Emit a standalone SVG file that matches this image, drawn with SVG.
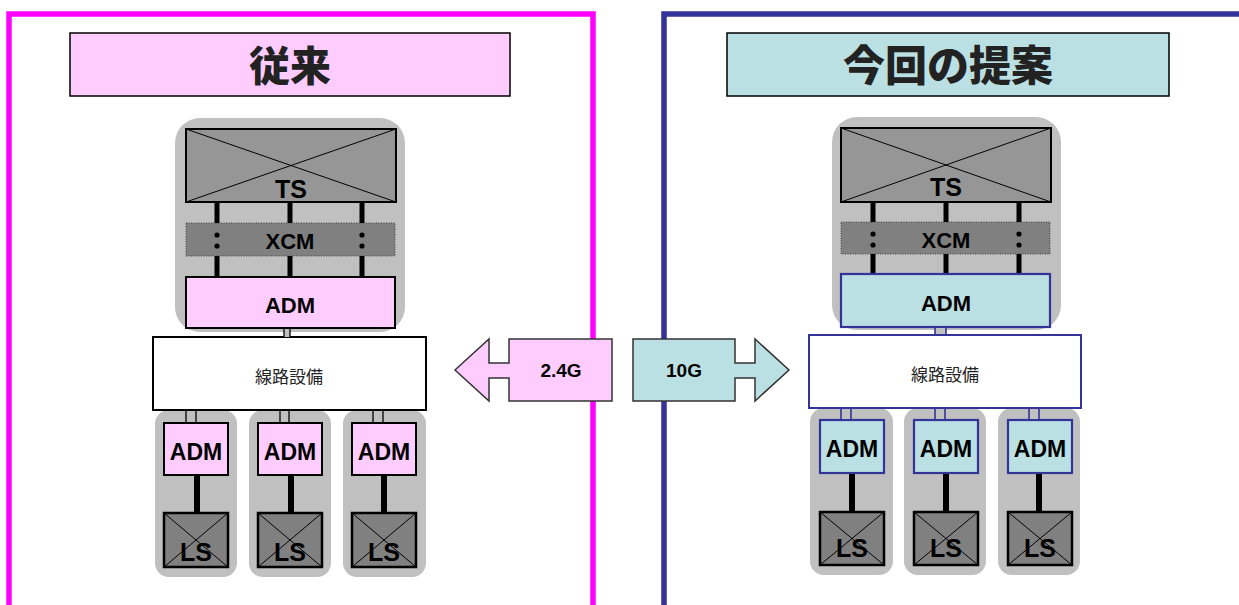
<svg xmlns="http://www.w3.org/2000/svg" width="1239" height="605" viewBox="0 0 1239 605">
<style>
.gc{fill:#C0C0C0}
.ts{fill:#969696;stroke:#000;stroke-width:2}
.xcm{fill:#808080;stroke:#444;stroke-width:1;stroke-dasharray:1 1.5}
.admL{fill:#FFCCFF;stroke:#000;stroke-width:2}
.admR{fill:#BBE0E3;stroke:#333399;stroke-width:2.2}
.ls{fill:#808080;stroke:#000;stroke-width:2.5}
.dg{stroke:#000;stroke-width:1}
.box{fill:#fff;stroke-width:2}
.lnk{stroke:#000;stroke-width:5}
.lnk2{stroke:#000;stroke-width:6}
.pair{fill:#C0C0C0;stroke:none}
.side{stroke:#000;stroke-width:1.3}
.sideR{stroke:#333399;stroke-width:1.6}
.t{font-family:"Liberation Sans",Arial,sans-serif;font-weight:bold;text-anchor:middle;fill:#000}
.j{font-family:"Noto Sans CJK JP","Noto Sans",sans-serif;text-anchor:middle;fill:#222}
.arrow{stroke:#333;stroke-width:1.5}
</style>
<rect width="1239" height="605" fill="#fff"/>
<g id="panel-left">
<rect x="9" y="14" width="584" height="640" fill="none" stroke="#FF00FF" stroke-width="5.5"/>
<g id="title-left"><rect x="70" y="33" width="440" height="63" fill="#FFCCFF" stroke="#000" stroke-width="1.5"/>
<text class="j" x="290" y="81" font-size="41" font-weight="900" fill="#000">従来</text></g>
</g>
<g id="panel-right">
<rect x="664" y="14" width="620" height="640" fill="none" stroke="#333399" stroke-width="5.5"/>
<g id="title-right"><rect x="727" y="33" width="442" height="63" fill="#BBE0E3" stroke="#000" stroke-width="1.5"/>
<text class="j" x="948" y="81" font-size="42" font-weight="900" fill="#000">今回の提案</text></g>
</g>
<!-- containers -->
<rect class="gc" x="175" y="118" width="230" height="214" rx="25"/>
<rect class="gc" x="155" y="410" width="82" height="167" rx="14"/>
<rect class="gc" x="249" y="410" width="82" height="167" rx="14"/>
<rect class="gc" x="343" y="410" width="83" height="167" rx="14"/>
<rect class="gc" x="832" y="117" width="229" height="213" rx="25"/>
<rect class="gc" x="810" y="408" width="83" height="167" rx="14"/>
<rect class="gc" x="904" y="408" width="82" height="167" rx="14"/>
<rect class="gc" x="998" y="408" width="82" height="167" rx="14"/>

<g id="L-TS"><rect class="ts" x="186" y="129" width="210" height="73"/>
<line class="dg" x1="186" y1="129" x2="396" y2="202"/><line class="dg" x1="186" y1="202" x2="396" y2="129"/>
<text class="t" x="291" y="198" font-size="25">TS</text></g>
<g id="L-XCM"><rect class="xcm" x="186" y="223" width="209" height="33"/>
<text class="t" x="290" y="249" font-size="22">XCM</text>
<circle cx="217" cy="235" r="2.6"/><circle cx="217" cy="246" r="2.6"/><circle cx="362" cy="235" r="2.6"/><circle cx="362" cy="246" r="2.6"/></g>
<g id="L-ADM"><rect class="admL" x="186" y="277" width="209" height="51"/>
<text class="t" x="290" y="313" font-size="22">ADM</text></g>
<g id="L-line"><rect class="box" x="153" y="337" width="273" height="73" stroke="#000"/>
<text class="j" x="289" y="383" font-size="17">線路設備</text></g>
<g id="L-ADM1"><rect class="admL" x="164" y="423" width="64" height="52" stroke-width="3"/><text class="t" x="196" y="460" font-size="23">ADM</text></g>
<g id="L-ADM2"><rect class="admL" x="258" y="423" width="64" height="52" stroke-width="3"/><text class="t" x="290" y="460" font-size="23">ADM</text></g>
<g id="L-ADM3"><rect class="admL" x="352" y="423" width="64" height="52" stroke-width="3"/><text class="t" x="384" y="460" font-size="23">ADM</text></g>
<g id="L-LS1"><rect class="ls" x="164" y="513" width="64" height="54"/><line class="dg" x1="164" y1="513" x2="228" y2="567"/><line class="dg" x1="164" y1="567" x2="228" y2="513"/><text class="t" x="196" y="561" font-size="25">LS</text></g>
<g id="L-LS2"><rect class="ls" x="258" y="513" width="64" height="54"/><line class="dg" x1="258" y1="513" x2="322" y2="567"/><line class="dg" x1="258" y1="567" x2="322" y2="513"/><text class="t" x="290" y="561" font-size="25">LS</text></g>
<g id="L-LS3"><rect class="ls" x="352" y="513" width="64" height="54"/><line class="dg" x1="352" y1="513" x2="416" y2="567"/><line class="dg" x1="352" y1="567" x2="416" y2="513"/><text class="t" x="384" y="561" font-size="25">LS</text></g>

<g id="R-TS"><rect class="ts" x="841" y="128" width="210" height="74"/>
<line class="dg" x1="841" y1="128" x2="1051" y2="202"/><line class="dg" x1="841" y1="202" x2="1051" y2="128"/>
<text class="t" x="946" y="196" font-size="25">TS</text></g>
<g id="R-XCM"><rect class="xcm" x="841" y="222" width="209" height="32"/>
<text class="t" x="946" y="248" font-size="22">XCM</text>
<circle cx="873" cy="234" r="2.6"/><circle cx="873" cy="245" r="2.6"/><circle cx="1019" cy="234" r="2.6"/><circle cx="1019" cy="245" r="2.6"/></g>
<g id="R-ADM"><rect class="admR" x="841" y="274" width="209" height="53"/>
<text class="t" x="946" y="311" font-size="22">ADM</text></g>
<g id="R-line"><rect class="box" x="809" y="335" width="272" height="73" stroke="#333399"/>
<text class="j" x="945" y="381" font-size="17">線路設備</text></g>
<g id="R-ADM1"><rect class="admR" x="820" y="420" width="64" height="53" stroke-width="2.8"/><text class="t" x="852" y="457" font-size="23">ADM</text></g>
<g id="R-ADM2"><rect class="admR" x="914" y="420" width="64" height="53" stroke-width="2.8"/><text class="t" x="946" y="457" font-size="23">ADM</text></g>
<g id="R-ADM3"><rect class="admR" x="1008" y="420" width="64" height="53" stroke-width="2.8"/><text class="t" x="1040" y="457" font-size="23">ADM</text></g>
<g id="R-LS1"><rect class="ls" x="820" y="512" width="64" height="53"/><line class="dg" x1="820" y1="512" x2="884" y2="565"/><line class="dg" x1="820" y1="565" x2="884" y2="512"/><text class="t" x="852" y="557" font-size="25">LS</text></g>
<g id="R-LS2"><rect class="ls" x="914" y="512" width="64" height="53"/><line class="dg" x1="914" y1="512" x2="978" y2="565"/><line class="dg" x1="914" y1="565" x2="978" y2="512"/><text class="t" x="946" y="557" font-size="25">LS</text></g>
<g id="R-LS3"><rect class="ls" x="1008" y="512" width="64" height="53"/><line class="dg" x1="1008" y1="512" x2="1072" y2="565"/><line class="dg" x1="1008" y1="565" x2="1072" y2="512"/><text class="t" x="1040" y="557" font-size="25">LS</text></g>

<g id="connectors">
<g class="lnk">
<line x1="217" y1="203" x2="217" y2="223"/><line x1="290" y1="203" x2="290" y2="223"/><line x1="362" y1="203" x2="362" y2="223"/>
<line x1="217" y1="256" x2="217" y2="276"/><line x1="290" y1="256" x2="290" y2="276"/><line x1="362" y1="256" x2="362" y2="276"/>
<line x1="873" y1="203" x2="873" y2="222"/><line x1="946" y1="203" x2="946" y2="222"/><line x1="1019" y1="203" x2="1019" y2="222"/>
<line x1="873" y1="254" x2="873" y2="273"/><line x1="946" y1="254" x2="946" y2="273"/><line x1="1019" y1="254" x2="1019" y2="273"/>
</g>
<g class="lnk2">
<line x1="197" y1="476" x2="197" y2="512"/><line x1="291" y1="476" x2="291" y2="512"/><line x1="384" y1="476" x2="384" y2="512"/>
<line x1="852" y1="474" x2="852" y2="511"/><line x1="946" y1="474" x2="946" y2="511"/><line x1="1039" y1="474" x2="1039" y2="511"/>
</g>
<g class="pair">
<rect x="284" y="329" width="6" height="8"/>
<rect x="186" y="411" width="10" height="11"/><rect x="280" y="411" width="9" height="11"/><rect x="373" y="411" width="10" height="11"/>
<rect x="935" y="328" width="11" height="6"/>
<rect x="841" y="409" width="10" height="10"/><rect x="935" y="409" width="10" height="10"/><rect x="1029" y="409" width="10" height="10"/>
</g>
<g class="side">
<line x1="284" y1="329" x2="284" y2="337"/><line x1="290" y1="329" x2="290" y2="337"/>
<line x1="186" y1="410" x2="186" y2="423"/><line x1="196" y1="410" x2="196" y2="423"/>
<line x1="280" y1="410" x2="280" y2="423"/><line x1="289" y1="410" x2="289" y2="423"/>
<line x1="373" y1="410" x2="373" y2="423"/><line x1="383" y1="410" x2="383" y2="423"/>
</g>
<g class="sideR">
<line x1="935" y1="327" x2="935" y2="335"/><line x1="946" y1="327" x2="946" y2="335"/>
<line x1="841" y1="408" x2="841" y2="420"/><line x1="851" y1="408" x2="851" y2="420"/>
<line x1="935" y1="408" x2="935" y2="420"/><line x1="945" y1="408" x2="945" y2="420"/>
<line x1="1029" y1="408" x2="1029" y2="420"/><line x1="1039" y1="408" x2="1039" y2="420"/>
</g>
</g>

<g id="arrow-2_4G">
<polygon class="arrow" fill="#FFCCFF" points="455,370 489,339 489,363 509,363 509,339 612,339 612,401 509,401 509,378 489,378 489,401"/>
<text class="t" x="561" y="377" font-size="19">2.4G</text>
</g>
<g id="arrow-10G">
<polygon class="arrow" fill="#BBE0E3" points="633,339 735,339 735,363 755,363 755,339 789,370 755,401 755,378 735,378 735,401 633,401"/>
<text class="t" x="684" y="377" font-size="19">10G</text>
</g>
</svg>
